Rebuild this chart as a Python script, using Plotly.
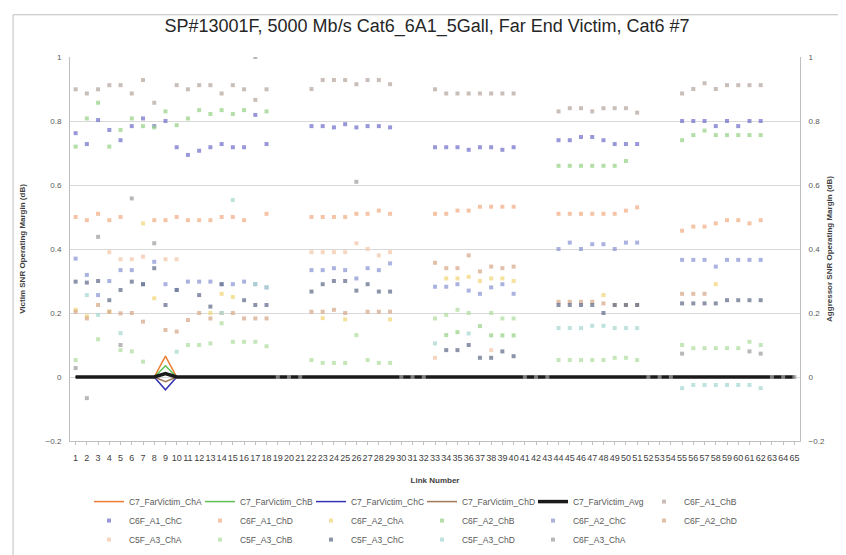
import plotly.graph_objects as go

links = list(range(1, 66))
tick_labels = [str(n) for n in links]

# C7 far-victim line series (zero except link 9)
c7_cha = [0, 0, 0, 0, 0, 0, 0, 0, 0.065, 0, 0, 0, 0, 0, 0, 0, 0, 0, 0, 0, 0, 0, 0, 0, 0, 0, 0, 0, 0, 0, 0, 0, 0,
          0, 0, 0, 0, 0, 0, 0, 0, 0, 0, 0, 0, 0, 0, 0, 0, 0, 0, 0, 0, 0, 0, 0, 0, 0, 0, 0, 0, 0, 0, 0, 0]
c7_chb = [0, 0, 0, 0, 0, 0, 0, 0, 0.035, 0, 0, 0, 0, 0, 0, 0, 0, 0, 0, 0, 0, 0, 0, 0, 0, 0, 0, 0, 0, 0, 0, 0, 0,
          0, 0, 0, 0, 0, 0, 0, 0, 0, 0, 0, 0, 0, 0, 0, 0, 0, 0, 0, 0, 0, 0, 0, 0, 0, 0, 0, 0, 0, 0, 0, 0]
c7_chc = [0, 0, 0, 0, 0, 0, 0, 0, -0.04, 0, 0, 0, 0, 0, 0, 0, 0, 0, 0, 0, 0, 0, 0, 0, 0, 0, 0, 0, 0, 0, 0, 0, 0,
          0, 0, 0, 0, 0, 0, 0, 0, 0, 0, 0, 0, 0, 0, 0, 0, 0, 0, 0, 0, 0, 0, 0, 0, 0, 0, 0, 0, 0, 0, 0, 0]
c7_chd = [0, 0, 0, 0, 0, 0, 0, 0, -0.015, 0, 0, 0, 0, 0, 0, 0, 0, 0, 0, 0, 0, 0, 0, 0, 0, 0, 0, 0, 0, 0, 0, 0, 0,
          0, 0, 0, 0, 0, 0, 0, 0, 0, 0, 0, 0, 0, 0, 0, 0, 0, 0, 0, 0, 0, 0, 0, 0, 0, 0, 0, 0, 0, 0, 0, 0]
c7_avg = [0, 0, 0, 0, 0, 0, 0, 0, 0.011, 0, 0, 0, 0, 0, 0, 0, 0, 0, 0, 0, 0, 0, 0, 0, 0, 0, 0, 0, 0, 0, 0, 0, 0,
          0, 0, 0, 0, 0, 0, 0, 0, 0, 0, 0, 0, 0, 0, 0, 0, 0, 0, 0, 0, 0, 0, 0, 0, 0, 0, 0, 0, 0, 0, 0, 0]

N = None
# Aggressor series, per link group: g1 = links 1-18, g2 = 22-29, g3 = 33-40, g4 = 44-51, g5 = 55-62
c6f_a1_chb = dict(
    g1=[0.899, 0.886, 0.899, 0.912, 0.912, 0.886, 0.928, 0.857, N, 0.912, 0.899, 0.912, 0.912, 0.886, 0.912, 0.899, 0.866, 0.899],
    g2=[0.90, 0.928, 0.928, 0.928, 0.915, 0.928, 0.928, 0.915],
    g3=[0.899, 0.886, 0.886, 0.886, 0.886, 0.886, 0.886, 0.886],
    g4=[0.83, 0.84, 0.84, 0.83, 0.84, 0.84, 0.84, 0.826],
    g5=[0.886, 0.90, 0.918, 0.90, 0.912, 0.912, 0.912, 0.912])
c6f_a1_chc = dict(
    g1=[0.762, 0.728, 0.803, 0.772, 0.74, 0.784, 0.808, 0.784, 0.80, 0.718, 0.694, 0.707, 0.718, 0.728, 0.718, 0.718, 0.819, 0.728],
    g2=[0.784, 0.784, 0.78, 0.79, 0.78, 0.784, 0.784, 0.78],
    g3=[0.718, 0.718, 0.718, 0.71, 0.718, 0.718, 0.71, 0.718],
    g4=[0.74, 0.74, 0.75, 0.75, 0.74, 0.728, 0.728, 0.728],
    g5=[0.80, 0.80, 0.80, 0.784, 0.80, 0.784, 0.80, 0.80])
c6f_a1_chd = dict(
    g1=[0.50, 0.49, 0.51, 0.49, 0.50, N, N, 0.49, 0.49, 0.50, 0.49, 0.49, 0.49, 0.50, 0.50, 0.49, N, 0.51],
    g2=[0.50, 0.50, 0.50, 0.50, 0.51, 0.51, 0.52, 0.51],
    g3=[0.51, 0.51, 0.52, 0.52, 0.532, 0.532, 0.532, 0.532],
    g4=[0.51, 0.51, 0.51, 0.51, 0.51, 0.51, 0.52, 0.53],
    g5=[0.457, 0.47, 0.47, 0.48, 0.49, 0.49, 0.48, 0.49])
c6f_a2_cha = dict(
    g1=[0.21, 0.19, N, 0.204, N, N, 0.48, 0.246, N, N, N, N, 0.20, 0.26, 0.25, N, N, N],
    g2=[N, 0.184, N, 0.18, N, N, N, 0.18],
    g3=[N, 0.308, 0.308, 0.313, 0.30, 0.308, 0.308, 0.30],
    g4=[N, N, N, N, 0.256, N, N, N],
    g5=[N, N, N, 0.29, N, N, N, N])
c6f_a2_chb = dict(
    g1=[0.72, 0.808, 0.857, 0.72, 0.772, 0.808, 0.784, 0.78, 0.83, 0.787, 0.808, 0.834, 0.822, 0.834, 0.822, 0.834, N, 0.83],
    g2=[N, N, N, N, N, N, N, N],
    g3=[N, 0.131, 0.14, N, 0.159, 0.13, 0.13, 0.13],
    g4=[0.66, 0.66, 0.66, 0.66, 0.66, 0.66, 0.675, N],
    g5=[0.74, 0.756, 0.77, 0.756, 0.756, 0.756, 0.756, 0.756])
c6f_a2_chc = dict(
    g1=[0.37, 0.319, 0.256, 0.30, 0.334, 0.334, 0.29, 0.36, 0.29, 0.272, 0.298, 0.298, 0.298, 0.29, 0.29, 0.298, 0.29, 0.28],
    g2=[0.334, 0.334, 0.34, 0.334, 0.308, 0.34, 0.334, 0.355],
    g3=[0.282, 0.282, 0.29, 0.27, 0.26, 0.28, 0.29, 0.26],
    g4=[0.40, 0.42, 0.40, 0.415, 0.415, 0.40, 0.42, 0.42],
    g5=[0.366, 0.366, 0.366, 0.345, 0.366, 0.366, 0.366, 0.366])
c6f_a2_chd = dict(
    g1=[0.204, 0.183, 0.225, 0.204, 0.199, 0.20, 0.173, N, 0.147, 0.142, 0.178, 0.20, 0.183, 0.20, 0.20, 0.183, 0.183, 0.183],
    g2=[0.204, 0.204, 0.21, 0.20, N, 0.204, 0.204, 0.204],
    g3=[0.357, 0.34, 0.34, 0.38, 0.33, 0.345, 0.34, 0.345],
    g4=[0.235, 0.235, 0.235, 0.235, 0.23, 0.225, 0.225, 0.225],
    g5=[0.26, 0.26, 0.26, N, N, N, N, N])
c5f_a3_cha = dict(
    g1=[N, N, N, 0.39, 0.368, 0.368, 0.376, N, 0.368, 0.368, N, N, N, N, N, N, N, N],
    g2=[0.39, 0.39, 0.39, 0.39, 0.418, 0.40, 0.38, 0.39],
    g3=[0.06, N, N, N, N, 0.084, N, N],
    g4=[N, N, N, N, N, N, N, N],
    g5=[N, N, N, N, N, N, N, N])
c5f_a3_chb = dict(
    g1=[0.053, N, 0.118, N, 0.084, 0.08, 0.048, N, N, N, 0.10, 0.10, 0.105, 0.168, 0.11, 0.11, 0.11, 0.096],
    g2=[0.053, 0.044, 0.044, 0.044, 0.131, 0.053, 0.044, 0.044],
    g3=[0.183, 0.194, 0.21, 0.20, N, 0.20, 0.183, 0.183],
    g4=[0.053, 0.053, 0.053, 0.053, 0.053, 0.06, 0.06, 0.053],
    g5=[0.10, 0.09, 0.09, 0.09, 0.09, 0.09, 0.11, 0.10])
c5f_a3_chc = dict(
    g1=[0.298, 0.295, 0.30, 0.24, 0.272, 0.298, 0.29, 0.34, 0.225, 0.272, N, 0.256, 0.22, 0.29, N, 0.24, 0.225, 0.225],
    g2=[0.267, 0.29, 0.30, 0.30, 0.27, 0.29, 0.267, 0.267],
    g3=[N, 0.084, 0.084, 0.10, 0.06, 0.06, 0.08, 0.065],
    g4=[0.225, 0.225, 0.225, 0.225, 0.20, 0.225, 0.225, 0.225],
    g5=[0.23, 0.23, 0.23, 0.23, 0.24, 0.24, 0.24, 0.24])
c5f_a3_chd = dict(
    g1=[N, 0.256, 0.194, N, 0.137, N, N, N, N, 0.079, N, N, N, 0.20, 0.553, N, 0.29, 0.28],
    g2=[N, N, N, N, N, N, N, N],
    g3=[0.105, N, N, 0.136, N, N, N, N],
    g4=[0.153, 0.153, 0.153, 0.16, 0.16, 0.153, 0.153, 0.153],
    g5=[-0.035, -0.025, -0.025, -0.025, -0.025, -0.025, -0.025, -0.035])
c6f_a3_cha = dict(
    g1=[0.028, -0.066, 0.438, N, 0.10, 0.558, N, 0.418, N, N, N, N, N, N, N, N, 1.0, N],
    g2=[N, N, N, N, 0.61, N, N, N],
    g3=[N, N, N, N, N, N, N, N],
    g4=[N, N, N, N, N, N, N, N],
    g5=[0.073, N, N, N, N, N, 0.08, 0.073],
    gap=[0, 0, 0])


def assemble(s):
    gap = s.get("gap", [None, None, None])
    return s["g1"] + gap + s["g2"] + gap + s["g3"] + gap + s["g4"] + gap + s["g5"] + gap


line_series = [
    ("C7_FarVictim_ChA", c7_cha, "#ED7D31", 1.5),
    ("C7_FarVictim_ChB", c7_chb, "#5CC151", 1.5),
    ("C7_FarVictim_ChC", c7_chc, "#3333B3", 1.5),
    ("C7_FarVictim_ChD", c7_chd, "#A0785A", 1.5),
    ("C7_FarVictim_Avg", c7_avg, "#1A1A1A", 3.5),
]

marker_series = [
    ("C6F_A1_ChB", c6f_a1_chb, "#B8A8A0", "square"),
    ("C6F_A1_ChC", c6f_a1_chc, "#7474CC", "square"),
    ("C6F_A1_ChD", c6f_a1_chd, "#F2B08A", "square"),
    ("C6F_A2_ChA", c6f_a2_cha, "#F2D77A", "square"),
    ("C6F_A2_ChB", c6f_a2_chb, "#9AD488", "square"),
    ("C6F_A2_ChC", c6f_a2_chc, "#8E98D4", "square"),
    ("C6F_A2_ChD", c6f_a2_chd, "#D8A98C", "square"),
    ("C5F_A3_ChA", c5f_a3_cha, "#F4C8AC", "square"),
    ("C5F_A3_ChB", c5f_a3_chb, "#B2DDA0", "square"),
    ("C5F_A3_ChC", c5f_a3_chc, "#66708C", "square"),
    ("C5F_A3_ChD", c5f_a3_chd, "#A8D8D2", "square"),
    ("C6F_A3_ChA", c6f_a3_cha, "#A0A0A0", "square"),
]

fig = go.Figure()
for name, vals, color, w in line_series:
    fig.add_trace(go.Scatter(x=links, y=vals, name=name, mode="lines",
                             line=dict(color=color, width=w), yaxis="y"))
for name, s, color, sym in marker_series:
    fig.add_trace(go.Scatter(x=links, y=assemble(s), name=name, mode="markers",
                             marker=dict(color=color, size=4, symbol=sym, opacity=0.75),
                             yaxis="y2"))

font_family = "Liberation Sans, Arial, sans-serif"
axis_font = dict(family=font_family, size=8, color="#595959")

fig.update_layout(
    width=838, height=547,
    margin=dict(l=62, r=46, t=49, b=114, autoexpand=False),
    paper_bgcolor="white", plot_bgcolor="white",
    font=dict(family=font_family),
    title=dict(text="SP#13001F, 5000 Mb/s Cat6_6A1_5Gall, Far End Victim, Cat6 #7",
               x=0.5, xanchor="center", y=0.967, yanchor="middle",
               font=dict(family=font_family, size=18, color="#262626")),
    xaxis=dict(range=[0.5, 65.5], tickmode="array", tickvals=links, ticktext=tick_labels,
               tickangle=0, tickfont=dict(family=font_family, size=9, color="#404040"),
               showgrid=False, zeroline=False, showline=True, linecolor="#BFBFBF",
               ticks="outside", ticklen=3, tickcolor="#BFBFBF", automargin=False,
               ticklabelstandoff=5,
               title=dict(text="<b>Link Number</b>", font=dict(family=font_family, size=8, color="#404040"),
                          standoff=15)),
    yaxis=dict(range=[-0.2, 1.0], dtick=0.2, tick0=-0.2, tickfont=axis_font,
               showgrid=True, gridcolor="#D9D9D9", zeroline=False, showline=True,
               linecolor="#BFBFBF", tickformat="~g", automargin=False, ticklabelstandoff=6,
               title=dict(text="<b>Victim SNR Operating Margin (dB)</b>",
                          font=dict(family=font_family, size=8, color="#404040"), standoff=18)),
    yaxis2=dict(range=[-0.2, 1.0], dtick=0.2, tick0=-0.2, tickfont=axis_font, overlaying="y",
                side="right", showgrid=False, zeroline=False, showline=True, linecolor="#BFBFBF",
                tickformat="~g", automargin=False, ticklabelstandoff=6,
                title=dict(text="<b>Aggressor SNR Operating Margin (dB)</b>",
                           font=dict(family=font_family, size=8, color="#404040"), standoff=2)),
    legend=dict(orientation="h", x=0.026, xanchor="left", y=-0.12, yanchor="top",
                font=dict(family=font_family, size=8.5, color="#595959"),
                entrywidth=66, entrywidthmode="pixels", tracegroupgap=0,
                bgcolor="rgba(0,0,0,0)"),
    showlegend=True,
)

fig.add_shape(type="rect", xref="paper", yref="paper",
              x0=-0.078, x1=1.065, y0=-0.32, y1=1.11,
              line=dict(color="#BFBFBF", width=1), fillcolor="rgba(0,0,0,0)", layer="below")

fig.write_html("out.html")
